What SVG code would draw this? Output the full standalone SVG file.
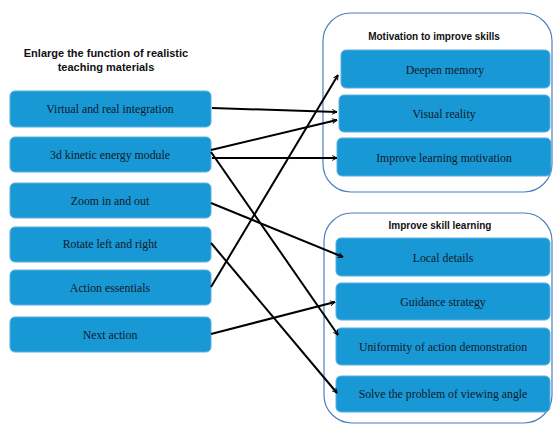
<svg xmlns="http://www.w3.org/2000/svg" width="555" height="425" viewBox="0 0 555 425">
<style>
.box{fill:#1898d5;stroke:#5ab0e0;stroke-width:1}
.cont{fill:#fff;stroke:#4d7fc1;stroke-width:1.2}
.t{font-family:"Liberation Serif",serif;font-size:11.8px;fill:#111a2a;text-anchor:middle;dominant-baseline:central}
.h{font-family:"Liberation Sans",sans-serif;font-size:10px;font-weight:bold;fill:#111;text-anchor:middle}
.hl{font-size:11px}
.c{stroke:#000;stroke-width:2;fill:none;marker-end:url(#ah)}
</style>
<defs>
<marker id="ah" viewBox="0 0 10 10" refX="9" refY="5" markerWidth="6" markerHeight="6" markerUnits="userSpaceOnUse" orient="auto">
<path d="M1,1 L9,5 L1,9" fill="none" stroke="#000" stroke-width="1.6"/>
</marker>
</defs>
<rect width="555" height="425" fill="#fff"/>
<g id="title"><text class="h hl" x="106" y="57">Enlarge the function of realistic</text><text class="h hl" x="106" y="71">teaching materials</text></g>
<g id="group-motivation"><rect class="cont" x="323" y="13" width="229" height="179" rx="28"/><text class="h" x="434" y="40">Motivation to improve skills</text></g>
<g id="group-skill"><rect class="cont" x="324" y="213" width="228" height="210" rx="28"/><text class="h" x="440" y="229">Improve skill learning</text></g>
<g id="n1"><rect class="box" x="10" y="91" width="201" height="36" rx="5"/><text class="t" x="110" y="109">Virtual and real integration</text></g>
<g id="n2"><rect class="box" x="10" y="137" width="201" height="35" rx="5"/><text class="t" x="110" y="155">3d kinetic energy module</text></g>
<g id="n3"><rect class="box" x="10" y="183" width="201" height="35" rx="5"/><text class="t" x="110" y="201">Zoom in and out</text></g>
<g id="n4"><rect class="box" x="10" y="227" width="201" height="35" rx="5"/><text class="t" x="110" y="244">Rotate left and right</text></g>
<g id="n5"><rect class="box" x="10" y="270" width="201" height="35" rx="5"/><text class="t" x="110" y="288">Action essentials</text></g>
<g id="n6"><rect class="box" x="10" y="317" width="201" height="35" rx="5"/><text class="t" x="110" y="335">Next action</text></g>
<g id="r1"><rect class="box" x="341" y="50" width="209" height="38" rx="5"/><text class="t" x="445" y="70">Deepen memory</text></g>
<g id="r2"><rect class="box" x="339" y="95" width="211" height="37" rx="5"/><text class="t" x="444" y="114">Visual reality</text></g>
<g id="r3"><rect class="box" x="337" y="138" width="214" height="38" rx="5"/><text class="t" x="444" y="158">Improve learning motivation</text></g>
<g id="r4"><rect class="box" x="336" y="238" width="214" height="38" rx="5"/><text class="t" x="443" y="258">Local details</text></g>
<g id="r5"><rect class="box" x="336" y="283" width="214" height="37" rx="5"/><text class="t" x="443" y="302">Guidance strategy</text></g>
<g id="r6"><rect class="box" x="336" y="328" width="214" height="37" rx="5"/><text class="t" x="443" y="347">Uniformity of action demonstration</text></g>
<g id="r7"><rect class="box" x="336" y="376" width="214" height="36" rx="5"/><text class="t" x="443" y="394">Solve the problem of viewing angle</text></g>
<g id="connectors">
<line class="c" x1="212" y1="108" x2="337" y2="112"/>
<line class="c" x1="211" y1="150" x2="337" y2="120"/>
<line class="c" x1="212" y1="158" x2="337" y2="158"/>
<line class="c" x1="211" y1="152" x2="338" y2="335"/>
<line class="c" x1="211" y1="203" x2="343" y2="257"/>
<line class="c" x1="211" y1="243" x2="337" y2="393"/>
<line class="c" x1="211" y1="287" x2="338" y2="75"/>
<line class="c" x1="211" y1="334" x2="335" y2="302"/>
</g>
</svg>
